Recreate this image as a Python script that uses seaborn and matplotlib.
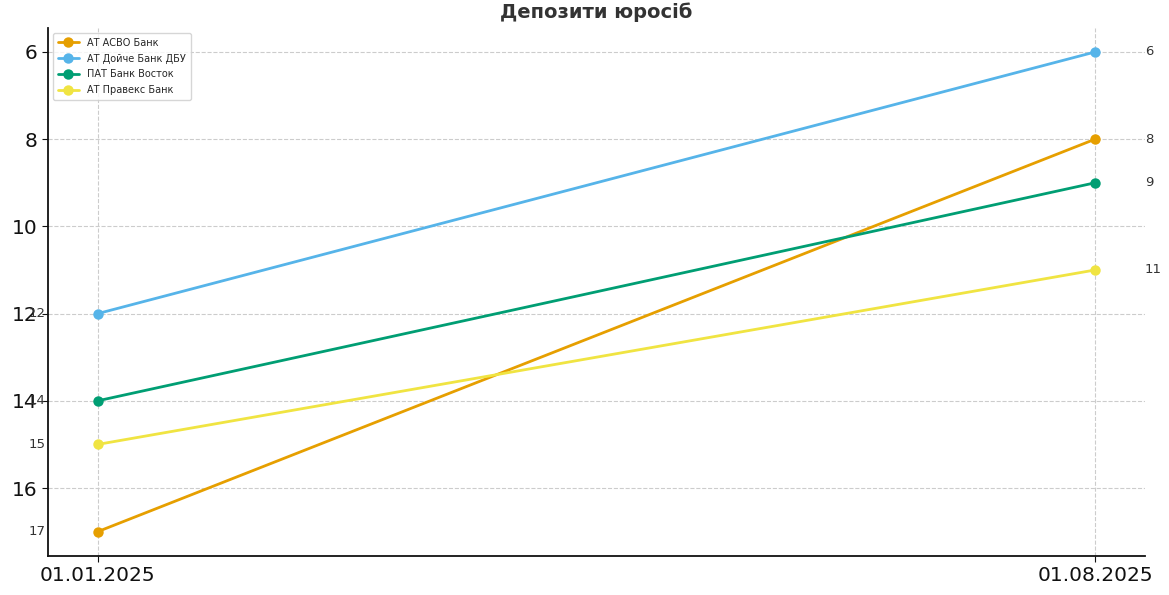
import matplotlib
matplotlib.use("Agg")
import matplotlib.pyplot as plt
import seaborn as sns
import pandas as pd

dates = ["01.01.2025", "01.08.2025"]
banks = ["АТ АСВО Банк", "АТ Дойче Банк ДБУ", "ПАТ Банк Восток", "АТ Правекс Банк"]
rank_start = [17, 12, 14, 15]
rank_end = [8, 6, 9, 11]
colors = ["#E69F00", "#56B4E9", "#009E73", "#F0E442"]

rows = []
for b, s, e in zip(banks, rank_start, rank_end):
    rows.append({"bank": b, "pos": 0, "rank": s})
    rows.append({"bank": b, "pos": 1, "rank": e})
df = pd.DataFrame(rows)

sns.set_style("white")
plt.rcParams['font.family'] = ['DejaVu Sans']

fig = plt.figure(figsize=(11.69, 5.95), dpi=100)
ax = fig.add_axes([0.041, 0.0655, 0.9385, 0.8875])

sns.lineplot(data=df, x="pos", y="rank", hue="bank", hue_order=banks,
             palette=colors, marker="o", markersize=7.5, markeredgewidth=0,
             linewidth=2, ax=ax, legend=True)

ax.set_xlim(-0.05, 1.05)
ax.set_ylim(17.56, 5.45)
ax.set_xticks([0, 1])
ax.set_xticklabels(dates)
ax.set_yticks([6, 8, 10, 12, 14, 16])
ax.tick_params(axis="both", labelsize=14.5, length=4, direction="out", color="#111111",
               labelcolor="#111111", left=True, bottom=True)
ax.grid(True, linestyle="--", color="#cccccc", linewidth=0.8)
ax.set_xlabel("")
ax.set_ylabel("")
for s in ["top", "right"]:
    ax.spines[s].set_visible(False)
for s in ["left", "bottom"]:
    ax.spines[s].set_color("#111111")
    ax.spines[s].set_linewidth(1.3)

for b, s, e in zip(banks, rank_start, rank_end):
    ax.text(-0.052, s, str(s), ha="right", va="center", fontsize=9.5, color="#333333")
    ax.text(1.05, e, str(e), ha="left", va="center", fontsize=9.5, color="#333333")

ax.set_title("Депозити юросіб", fontsize=14, fontweight="bold", color="#333333", pad=7)

leg = ax.legend(loc="upper left", fontsize=7, frameon=True, borderpad=0.5,
                handlelength=2.2, labelspacing=0.6)
leg.get_frame().set_edgecolor("#cccccc")

fig.savefig("out.png", dpi=100)
